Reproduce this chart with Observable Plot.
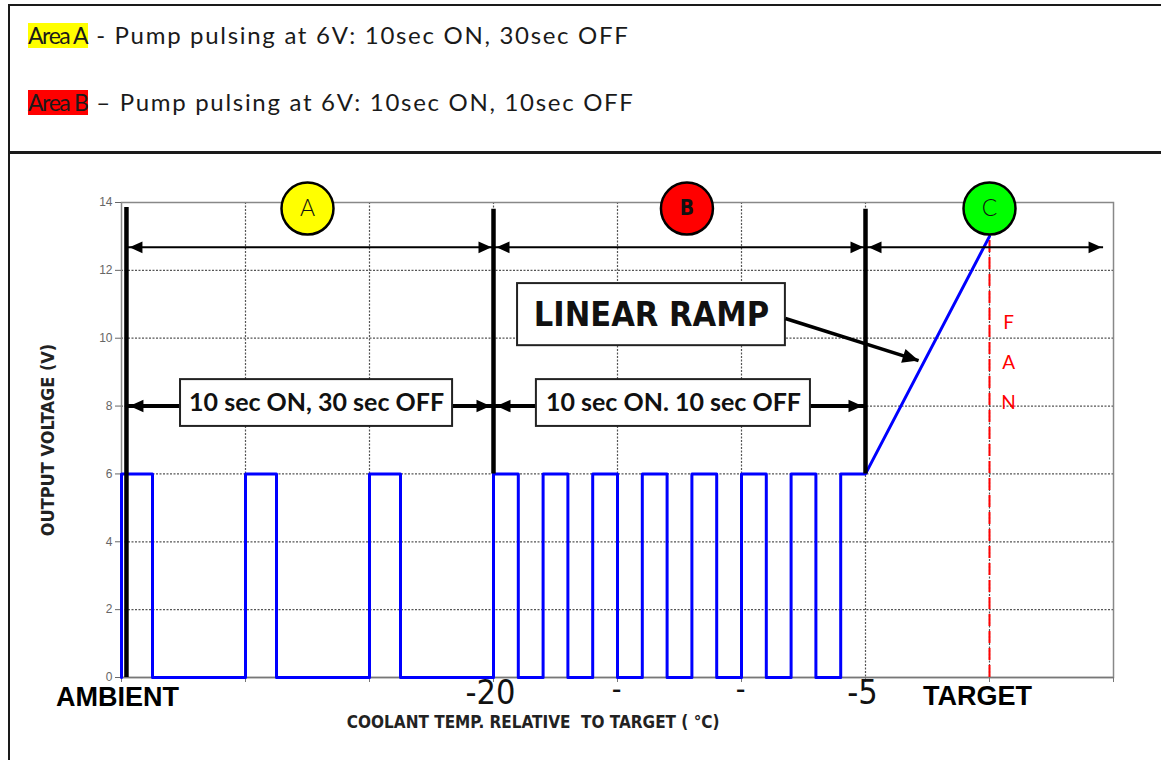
<!DOCTYPE html>
<html><head><meta charset="utf-8">
<script src="https://cdn.jsdelivr.net/npm/d3@7"></script>
<script src="https://cdn.jsdelivr.net/npm/@observablehq/plot@0.6"></script>
<style>
html,body{margin:0;padding:0;background:#fff;width:1161px;height:760px;overflow:hidden;position:relative;}
.box{position:absolute;box-sizing:border-box;border:2.5px solid #1a1a1a;pointer-events:none;z-index:3;}
.row{position:absolute;left:28px;font-family:Lato,"Open Sans",sans-serif;font-size:24px;line-height:25px;color:#1a1a1a;white-space:nowrap;letter-spacing:1.7px;}
.hl{display:inline-block;font-size:23px;letter-spacing:-1.4px;padding-right:1px;}
#chart{position:absolute;left:0;top:152px;z-index:1;}
</style></head>
<body>
<div class="box" style="left:8px;top:4px;width:1170px;height:150px;"></div>
<div class="box" style="left:8px;top:151px;width:1170px;height:640px;"></div>
<div class="row" style="top:22px;"><span class="hl" style="background:#ffff00">Area A</span> - Pump pulsing at 6V: 10sec ON, 30sec OFF</div>
<div class="row" style="top:89px;"><span class="hl" style="background:#ff0000">Area B</span> – Pump pulsing at 6V: 10sec ON, 10sec OFF</div>
<div id="chart"></div>
<script>
// ---- data ----
const signalTemp = [-35,-35,-33.75,-33.75,-30,-30,-28.75,-28.75,-25,-25,-23.75,-23.75,-20,-20,-19,-19,-18,-18,-17,-17,-16,-16,-15,-15,-14,-14,-13,-13,-12,-12,-11,-11,-10,-10,-9,-9,-8,-8,-7,-7,-6,-6,-5,0];
const signalVolt = [0,6,6,0,0,6,6,0,0,6,6,0,0,6,6,0,0,6,6,0,0,6,6,0,0,6,6,0,0,6,6,0,0,6,6,0,0,6,6,0,0,6,6,13];

const yTicks = [0,2,4,6,8,10,12,14];
const yGrid = [2,4,6,8,10,12];
const xGrid = [-35,-30,-25,-20,-15,-10,-5,0,5];
const xGridDotted = [-30,-25,-20,-15,-10,-5,0];
const xTickValues = [-35,-20,-15,-10,-5,0];
const xTickLabels = ["AMBIENT","-20","-","-","-5","TARGET"];

const zoneNames = ["A","B","C"];
const zoneCenter = [-27.5,-12.2,0];
const zoneColors = ["#ffff00","#ff0000","#00ff00"];
const zoneY = 13.82;

const dividerX = [-34.8,-20,-5];
const dividerTop = [13.85,13.8,13.8];
const dividerBottom = [0,6,6];

const spanStart = [-34.8,-20,-5];
const spanEnd = [-20,-5,4.6];
const spanY = 12.68;

const noteStart = [-34.8,-20];
const noteEnd = [-20,-5];
const noteY = 8;
const noteLabels = ["10 sec ON, 30 sec OFF","10 sec ON. 10 sec OFF"];
const noteX1 = [-32.62,-18.27];
const noteX2 = [-21.65,-7.22];
const noteY1 = 7.4, noteY2 = 8.78;

const rampLabel = "LINEAR RAMP";
const rampBox = {x1:-19.03, x2:-8.23, y1:9.78, y2:11.61};
const rampPointer = {x1:-8.23, y1:10.58, x2:-2.86, y2:9.34};

const fanLetters = ["F","A","N"];
const fanY = [10.46,9.28,8.1];
const fanX = 0.77;
const fanTop = 13;

// ---- derived tables ----
const signal = signalTemp.map((t,i)=>({t, v:signalVolt[i]}));
const zones = zoneNames.map((n,i)=>({n, x:zoneCenter[i], c:zoneColors[i]}));
const zonesBold = zones.filter(d=>d.n==="B");
const zonesThin = zones.filter(d=>d.n!=="B");
const dividers = dividerX.map((x,i)=>({x, y1:dividerBottom[i], y2:dividerTop[i]}));
const spans = spanStart.map((s,i)=>({x1:s, x2:spanEnd[i]}));
const notes = noteStart.map((s,i)=>({x1:s, x2:noteEnd[i]}));
const noteBoxes = noteLabels.map((l,i)=>({l, x1:noteX1[i], x2:noteX2[i]}));
const xLabels = xTickValues.map((x,i)=>({x, l:xTickLabels[i]}));
const lblAmbient = xLabels.filter(d=>d.l==="AMBIENT");
const lblTarget = xLabels.filter(d=>d.l==="TARGET");
const lblNum = xLabels.filter(d=>d.l.length>1 && !/[A-Z]/.test(d.l));
const lblDash = xLabels.filter(d=>d.l==="-");
const fan = fanLetters.map((l,i)=>({l, y:fanY[i]}));

const head = {draw(ctx, size){const r=Math.sqrt(size/Math.PI); ctx.moveTo(0,0); ctx.lineTo(-2*r,-0.9*r); ctx.lineTo(-2*r,0.9*r); ctx.closePath();}};
const narrow = "'DejaVu Sans Condensed','Liberation Sans',sans-serif";
const sans = "'Liberation Sans',Arial,sans-serif";
const calib = "Lato,'Open Sans',sans-serif";
const dotted = "2,1.5";

const chart = Plot.plot({
  width: 1161, height: 608,
  marginTop: 50, marginBottom: 83, marginLeft: 121, marginRight: 48,
  x: {domain: [-35, 5], axis: null},
  y: {domain: [0, 14], axis: null},
  style: {background: "transparent", overflow: "visible"},
  marks: [
    Plot.ruleY(yGrid, {stroke:"#555", strokeDasharray:dotted, strokeWidth:1.2}),
    Plot.ruleX(xGridDotted, {stroke:"#555", strokeDasharray:dotted, strokeWidth:1.2}),
    Plot.frame({stroke:"#888", strokeWidth:1.5}),
    Plot.ruleY([0], {stroke:"#777", strokeWidth:1.5}),
    Plot.axisY(yTicks, {tickSize:6, tickPadding:3, fontSize:12, fontFamily:sans, color:"#666", label:null}),
    Plot.axisX(xGrid, {tickSize:5, tickFormat:()=>"", color:"#777", label:null}),
    // FAN line
    Plot.ruleX([0], {y1:0, y2:fanTop, stroke:"#ff0000", strokeWidth:2, strokeDasharray:"12,5"}),
    Plot.text(fan, {x:fanX, y:"y", text:"l", fill:"#ff0000", fontSize:19, fontFamily:calib}),
    // signal
    Plot.line(signal, {x:"t", y:"v", stroke:"#0000ff", strokeWidth:3}),
    // dividers
    Plot.ruleX(dividers, {x:"x", y1:"y1", y2:"y2", stroke:"#000", strokeWidth:4.5}),
    // top spans
    Plot.ruleY(spans, {x1:"x1", x2:"x2", y:spanY, stroke:"#000", strokeWidth:2}),
    Plot.dot(spans, {x:"x1", y:spanY, dx:3, rotate:180, symbol:head, r:6.5, fill:"#000", stroke:"none"}),
    Plot.dot(spans, {x:"x2", y:spanY, dx:-2, rotate:0, symbol:head, r:6.5, fill:"#000", stroke:"none"}),
    // mid notes
    Plot.ruleY(notes, {x1:"x1", x2:"x2", y:noteY, stroke:"#000", strokeWidth:4}),
    Plot.dot(notes, {x:"x1", y:noteY, dx:3, rotate:180, symbol:head, r:7, fill:"#000", stroke:"none"}),
    Plot.dot(notes, {x:"x2", y:noteY, dx:-3, rotate:0, symbol:head, r:7, fill:"#000", stroke:"none"}),
    Plot.rect(noteBoxes, {x1:"x1", x2:"x2", y1:noteY1, y2:noteY2, fill:"#fff", stroke:"#222", strokeWidth:2}),
    Plot.text(noteBoxes, {x:d=>(d.x1+d.x2)/2, y:(noteY1+noteY2)/2, text:"l", fontSize:25, fontWeight:"bold", fontFamily:calib, fill:"#111"}),
    // linear ramp
    Plot.rect([rampBox], {x1:"x1", x2:"x2", y1:"y1", y2:"y2", fill:"#fff", stroke:"#222", strokeWidth:2}),
    Plot.text([rampLabel], {x:(rampBox.x1+rampBox.x2)/2, y:(rampBox.y1+rampBox.y2)/2, text:d=>d, fontSize:34, fontWeight:"bold", fontFamily:narrow, fill:"#111"}),
    Plot.link([rampPointer], {x1:"x1", y1:"y1", x2:"x2", y2:"y2", stroke:"#000", strokeWidth:3.5}),
    Plot.dot([rampPointer], {x:"x2", y:"y2", rotate:17.5, symbol:head, r:8, fill:"#000", stroke:"none"}),
    // zone circles
    Plot.dot(zones, {x:"x", y:zoneY, r:26, fill:"c", stroke:"#000", strokeWidth:2.5}),
    Plot.text(zonesThin, {x:"x", y:zoneY, text:"n", fontSize:23, fontFamily:calib, fontWeight:300, fill:"#111"}),
    Plot.text(zonesBold, {x:"x", y:zoneY, text:"n", fontSize:21, fontFamily:narrow, fontWeight:"bold", fill:"#111"}),
    // x labels
    Plot.text(lblAmbient, {x:"x", y:0, text:"l", dy:20, dx:-4, fontSize:27, fontWeight:"bold", fontFamily:sans, fill:"#000"}),
    Plot.text(lblTarget, {x:"x", y:0, text:"l", dy:19, dx:-12, fontSize:27, fontWeight:"bold", fontFamily:sans, fill:"#000"}),
    Plot.text(lblNum, {x:"x", y:0, text:"l", dy:16, dx:-3, fontSize:34, fontFamily:narrow, fill:"#111"}),
    Plot.text(lblDash, {x:"x", y:0, text:"l", dy:12, dx:-1, fontSize:30, fontFamily:narrow, fill:"#111"}),
    // axis titles
    Plot.text(["COOLANT TEMP. RELATIVE  TO TARGET ( °C)"], {x:-18.4, y:0, dy:45, text:d=>d, fontSize:17, fontWeight:"bold", fontFamily:narrow, fill:"#222"}),
    Plot.text(["OUTPUT VOLTAGE (V)"], {frameAnchor:"left", y:7, dx:-73, rotate:-90, textAnchor:"middle", text:d=>d, fontSize:18, fontWeight:"bold", fontFamily:narrow, fill:"#222"})
  ]
});
document.getElementById("chart").appendChild(chart);
</script>
</body></html>
